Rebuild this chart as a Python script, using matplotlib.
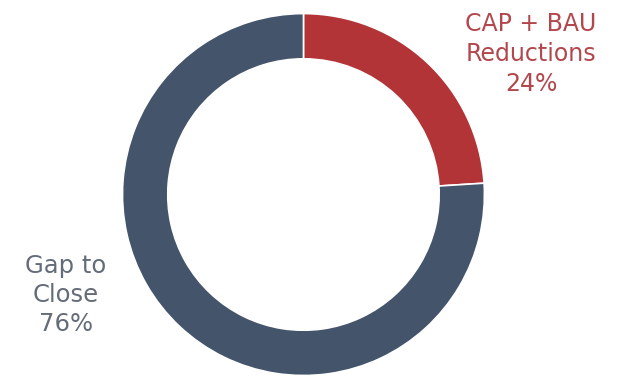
import matplotlib
matplotlib.use("Agg")
import matplotlib.pyplot as plt

labels = ["CAP + BAU\nReductions", "Gap to\nClose"]
values = [24, 76]
colors = ["#B23437", "#44546B"]
text_colors = ["#B2474D", "#646C79"]

fig = plt.figure(figsize=(6.23, 3.77), dpi=100)
ax = fig.add_axes([0.1966, 0.004, 0.581, 0.960])
ax.pie(values, colors=colors, startangle=90, counterclock=False, radius=1,
       wedgeprops=dict(width=0.25, edgecolor="white", linewidth=1.2))
ax.set_xlim(-1, 1)
ax.set_ylim(-1, 1)
ax.set_aspect("equal")
ax.axis("off")

total = sum(values)
fig.text(531 / 623, 1 - 54 / 377, f"{labels[0]}\n{round(values[0] / total * 100)}%",
         ha="center", va="center", fontsize=17, color=text_colors[0],
         family="DejaVu Sans", linespacing=1.32)
fig.text(66 / 623, 1 - 295 / 377, f"{labels[1]}\n{round(values[1] / total * 100)}%",
         ha="center", va="center", fontsize=17.5, color=text_colors[1],
         family="DejaVu Sans", linespacing=1.26)

fig.savefig("out.png", dpi=100)
